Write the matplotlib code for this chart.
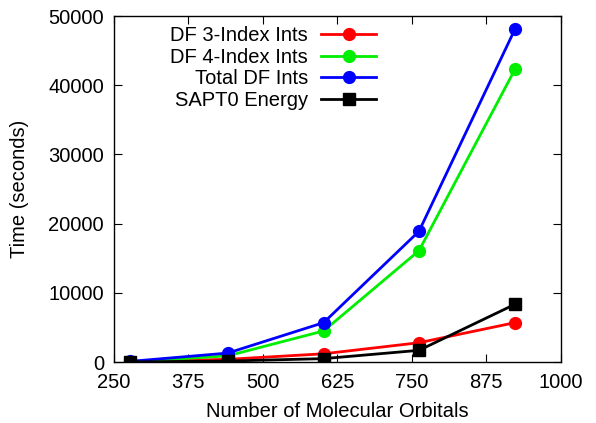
import matplotlib
matplotlib.use("Agg")
import matplotlib.pyplot as plt

plt.rcParams['font.family'] = ['Liberation Sans', 'DejaVu Sans']

orbitals = [277, 441, 602, 762, 923]
df3_ints = [50, 400, 1200, 2800, 5700]
df4_ints = [50, 900, 4500, 16100, 42300]
total_df = [100, 1300, 5700, 18900, 48100]
sapt0 = [20, 150, 500, 1700, 8350]

fs = 14.5

fig = plt.figure(figsize=(5.96, 4.23), dpi=100)
ax = fig.add_axes([0.191, 0.144, 0.75, 0.818])

ax.plot(orbitals, df3_ints, '-o', color='#ff0000', lw=2, ms=8.5, label='DF 3-Index Ints')
ax.plot(orbitals, df4_ints, '-o', color='#00ee00', lw=2, ms=8.5, label='DF 4-Index Ints')
ax.plot(orbitals, total_df, '-o', color='#0000ff', lw=2, ms=8.5, label='Total DF Ints')
ax.plot(orbitals, sapt0, '-s', color='black', lw=2, ms=8.5, label='SAPT0 Energy')

ax.set_xlim(250, 1000)
ax.set_ylim(0, 50000)
ax.set_xticks([250, 375, 500, 625, 750, 875, 1000])
ax.set_yticks(range(0, 50001, 10000))
ax.tick_params(direction='in', top=True, right=True, labelsize=fs, length=6)
ax.tick_params(axis='x', pad=8)
ax.tick_params(axis='y', pad=7)
for s in ax.spines.values():
    s.set_linewidth(1.0)

ax.set_xlabel('Number of Molecular Orbitals', fontsize=fs, labelpad=7)
ax.set_ylabel('Time (seconds)', fontsize=fs, labelpad=14)

ax.legend(loc='upper right', bbox_to_anchor=(0.587, 0.97), markerfirst=False,
          frameon=False, fontsize=fs, handlelength=2.75, handletextpad=0.65,
          labelspacing=0.12, borderpad=0, borderaxespad=0)

fig.savefig('out.png', dpi=100)
